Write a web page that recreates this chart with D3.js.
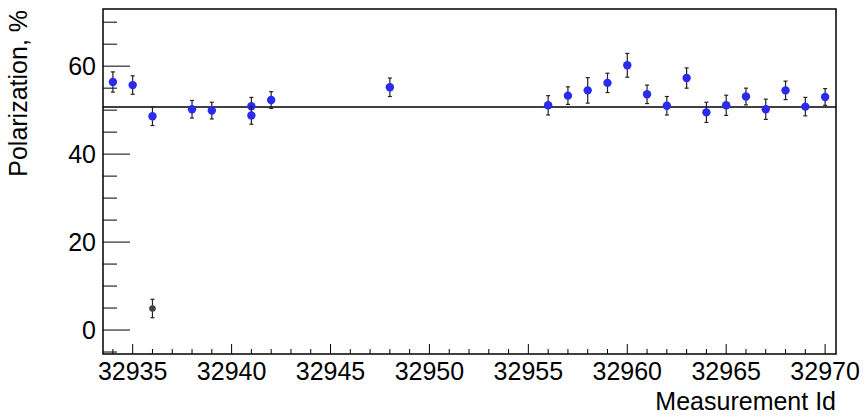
<!DOCTYPE html>
<html lang="en">
<head><title>Polarization vs measurement</title>
<style>
body { margin: 0; background: #fff; }
svg text { font-family: "Liberation Sans", Arial, Helvetica, sans-serif; fill: #000; }
</style>
</head>
<body>
<svg width="866" height="418"></svg>

<script src="https://d3js.org/d3.v7.min.js"></script>
<script>
// Measurements kept in the fit (blue)
var ids = [32934, 32935, 32936, 32938, 32939, 32941, 32941, 32942, 32948,
           32956, 32957, 32958, 32959, 32960, 32961, 32962, 32963, 32964,
           32965, 32966, 32967, 32968, 32969, 32970];
var pol = [56.4, 55.7, 48.6, 50.2, 49.9, 50.9, 48.8, 52.3, 55.2,
           51.1, 53.3, 54.5, 56.2, 60.2, 53.6, 51.0, 57.3, 49.5,
           51.1, 53.1, 50.2, 54.5, 50.8, 53.0];
var err = [2.3, 2.1, 2.1, 2.0, 1.9, 2.0, 2.0, 1.9, 2.1,
           2.2, 2.0, 2.9, 2.2, 2.7, 2.1, 2.1, 2.3, 2.3,
           2.3, 1.9, 2.3, 2.1, 2.1, 1.9];

// Rejected measurement (dark)
var rejIds = [32936];
var rejPol = [4.9];
var rejErr = [2.1];

// constant fit value
var fitValue = 50.7;

var xMajor = [32935, 32940, 32945, 32950, 32955, 32960, 32965, 32970];
var yMajor = [0, 20, 40, 60];

// note: "top" is a reserved window property, so use plotTop etc.
var svg = d3.select("svg"),
    plotLeft = 103, plotRight = 836, plotTop = 9, plotBottom = 354;

var x = d3.scaleLinear().domain([32933.5, 32970.55]).range([plotLeft, plotRight]);
var y = d3.scaleLinear().domain([-5.45, 73]).range([plotBottom, plotTop]);

// minor ticks
var xMinor = d3.range(32934, 32971, 1).filter(function(d) { return xMajor.indexOf(d) < 0; });
var yMinor = d3.range(-5, 71, 5).filter(function(d) { return yMajor.indexOf(d) < 0; });

var frame = svg.append("g");

// x axis ticks (inside, pointing up)
frame.selectAll(".xmaj").data(xMajor).enter().append("line")
    .attr("x1", function(d) { return x(d); }).attr("x2", function(d) { return x(d); })
    .attr("y1", plotBottom).attr("y2", plotBottom - 10)
    .attr("stroke", "#000").attr("stroke-width", 1);
frame.selectAll(".xmin").data(xMinor).enter().append("line")
    .attr("x1", function(d) { return x(d); }).attr("x2", function(d) { return x(d); })
    .attr("y1", plotBottom).attr("y2", plotBottom - 5)
    .attr("stroke", "#000").attr("stroke-width", 1);

// y axis ticks (inside, pointing right)
frame.selectAll(".ymaj").data(yMajor).enter().append("line")
    .attr("x1", plotLeft).attr("x2", plotLeft + 27)
    .attr("y1", function(d) { return y(d); }).attr("y2", function(d) { return y(d); })
    .attr("stroke", "#000").attr("stroke-width", 1);
frame.selectAll(".ymin").data(yMinor).enter().append("line")
    .attr("x1", plotLeft).attr("x2", plotLeft + 14)
    .attr("y1", function(d) { return y(d); }).attr("y2", function(d) { return y(d); })
    .attr("stroke", "#000").attr("stroke-width", 1);

// tick labels
svg.append("g").selectAll("text").data(xMajor).enter().append("text")
    .attr("x", function(d) { return x(d); })
    .attr("y", 380)
    .attr("text-anchor", "middle")
    .style("font-size", "25px")
    .text(function(d) { return d; });

svg.append("g").selectAll("text").data(yMajor).enter().append("text")
    .attr("x", 96)
    .attr("y", function(d) { return y(d) + 9; })
    .attr("text-anchor", "end")
    .style("font-size", "25px")
    .text(function(d) { return d; });

// axis titles
svg.append("text")
    .attr("x", plotRight).attr("y", 410)
    .attr("text-anchor", "end")
    .style("font-size", "25px")
    .text("Measurement Id");

svg.append("text")
    .attr("transform", "translate(27,10) rotate(-90)")
    .attr("text-anchor", "end")
    .style("font-size", "25px")
    .text("Polarization, %");

// fit line
svg.append("line")
    .attr("x1", plotLeft).attr("x2", plotRight)
    .attr("y1", y(fitValue)).attr("y2", y(fitValue))
    .attr("stroke", "#000").attr("stroke-width", 1.5);

// points with error bars
function drawPoints(xs, vs, es, fill, r) {
    var g = svg.append("g");
    var pts = xs.map(function(d, i) { return { x: d, v: vs[i], e: es[i] }; });
    var p = g.selectAll("g").data(pts).enter().append("g");
    p.append("line")
        .attr("x1", function(d) { return x(d.x); }).attr("x2", function(d) { return x(d.x); })
        .attr("y1", function(d) { return y(d.v - d.e); }).attr("y2", function(d) { return y(d.v + d.e); })
        .attr("stroke", "#222").attr("stroke-width", 1.2);
    [-1, 1].forEach(function(s) {
        p.append("line")
            .attr("x1", function(d) { return x(d.x) - 2; }).attr("x2", function(d) { return x(d.x) + 2; })
            .attr("y1", function(d) { return y(d.v + s * d.e); }).attr("y2", function(d) { return y(d.v + s * d.e); })
            .attr("stroke", "#222").attr("stroke-width", 1.2);
    });
    p.append("circle")
        .attr("cx", function(d) { return x(d.x); })
        .attr("cy", function(d) { return y(d.v); })
        .attr("r", r)
        .attr("fill", fill);
}

drawPoints(ids, pol, err, "#2a2af0", 4.2);
drawPoints(rejIds, rejPol, rejErr, "#444", 3.3);

// frame
svg.append("rect")
    .attr("x", plotLeft).attr("y", plotTop)
    .attr("width", plotRight - plotLeft).attr("height", plotBottom - plotTop)
    .attr("fill", "none").attr("stroke", "#000").attr("stroke-width", 1.5);
</script>
</body>
</html>
